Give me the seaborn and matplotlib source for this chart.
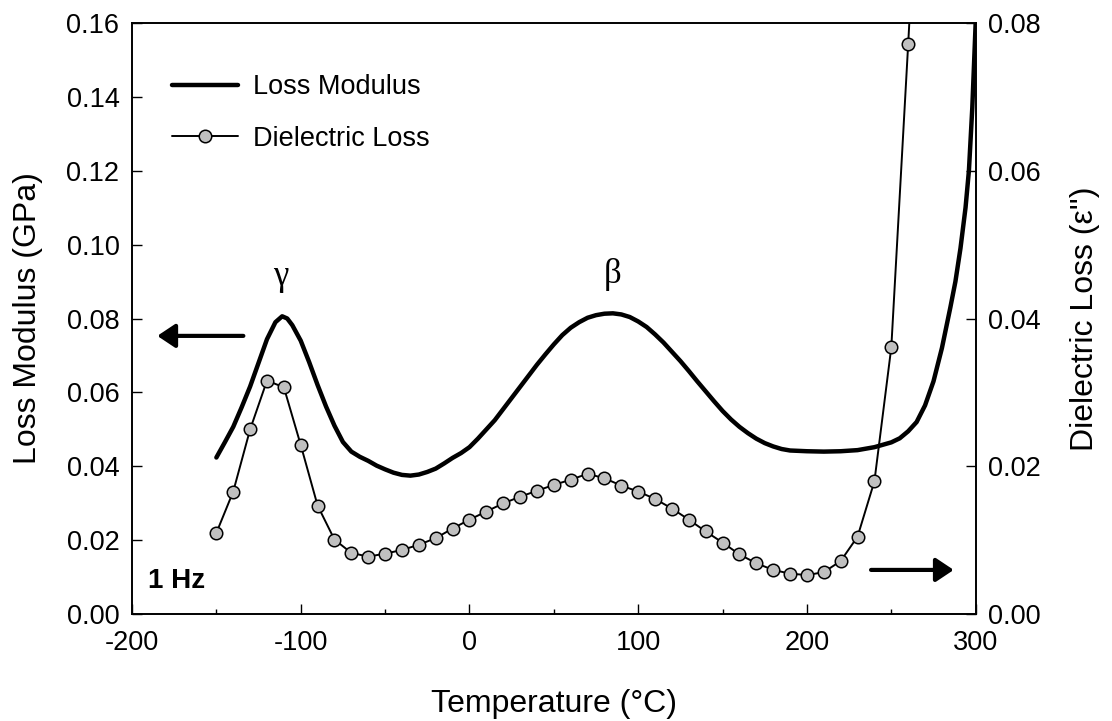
import numpy as np
import matplotlib
matplotlib.use("Agg")
import matplotlib.pyplot as plt
import seaborn as sns
from matplotlib.lines import Line2D
from matplotlib.ticker import MultipleLocator, FormatStrFormatter

# ---- data ----
# loss modulus (GPa), left axis
mod_temp = [-150, -145, -140, -135, -130, -125, -120, -115, -111, -108, -105, -100,
            -95, -90, -85, -80, -75, -70, -65, -60, -55, -50, -45, -40, -35, -30,
            -25, -20, -15, -10, -5, 0, 5, 10, 15, 20, 25, 30, 35, 40, 45, 50, 55,
            60, 65, 70, 75, 80, 85, 90, 95, 100, 105, 110, 115, 120, 125, 130,
            135, 140, 145, 150, 155, 160, 165, 170, 175, 180, 185, 190, 200, 210,
            220, 230, 240, 250, 255, 260, 265, 270, 275, 280, 285, 288, 291, 294,
            296, 298, 300]
loss_modulus = [0.0424, 0.0465, 0.0507, 0.0560, 0.0616, 0.0680, 0.0744, 0.0790,
                0.0806, 0.0800, 0.0782, 0.0740, 0.0682, 0.0620, 0.0562, 0.0510,
                0.0466, 0.0440, 0.0426, 0.0415, 0.0402, 0.0392, 0.0383, 0.0377,
                0.0375, 0.0378, 0.0385, 0.0394, 0.0408, 0.0423, 0.0436, 0.0452,
                0.0475, 0.0500, 0.0525, 0.0555, 0.0585, 0.0615, 0.0645, 0.0675,
                0.0703, 0.0730, 0.0755, 0.0775, 0.0790, 0.0802, 0.0809, 0.0813,
                0.0814, 0.0811, 0.0804, 0.0792, 0.0777, 0.0757, 0.0735, 0.0710,
                0.0685, 0.0658, 0.0630, 0.0603, 0.0576, 0.0550, 0.0527, 0.0507,
                0.0490, 0.0475, 0.0463, 0.0454, 0.0447, 0.0443, 0.0441, 0.0440,
                0.0441, 0.0444, 0.0452, 0.0465, 0.0476, 0.0495, 0.0520, 0.0565,
                0.0630, 0.0720, 0.0830, 0.0900, 0.0990, 0.1100, 0.1200, 0.1370,
                0.1600]

# dielectric loss (eps''), right axis; last point is off the top of the scale
diel_temp = [-150, -140, -130, -120, -110, -100, -90, -80, -70, -60, -50, -40,
             -30, -20, -10, 0, 10, 20, 30, 40, 50, 60, 70, 80, 90, 100, 110,
             120, 130, 140, 150, 160, 170, 180, 190, 200, 210, 220, 230, 240,
             250, 260, 270]
diel_loss = [0.0110, 0.0166, 0.0250, 0.0316, 0.0307, 0.0229, 0.0147, 0.0101,
             0.0083, 0.0078, 0.0082, 0.0087, 0.0094, 0.0103, 0.0116, 0.0128,
             0.0139, 0.0150, 0.0159, 0.0167, 0.0175, 0.0182, 0.0190, 0.0184,
             0.0174, 0.0166, 0.0156, 0.0143, 0.0128, 0.0112, 0.0097, 0.0081,
             0.0069, 0.0060, 0.0055, 0.0053, 0.0057, 0.0072, 0.0105, 0.0180,
             0.0361, 0.0771, 0.1200]

sns.set_style("ticks")
plt.rcParams["font.family"] = ["Liberation Sans", "DejaVu Sans"]
plt.rcParams["axes.unicode_minus"] = False
for key in ("text.color", "axes.labelcolor", "xtick.color", "ytick.color",
            "axes.edgecolor"):
    plt.rcParams[key] = "black"

fig = plt.figure(figsize=(11.12, 7.21), dpi=100)
ax = fig.add_axes([0.1187, 0.148, 0.7587, 0.8205])
ax2 = ax.twinx()

sns.lineplot(x=mod_temp, y=loss_modulus, ax=ax, color="black", linewidth=3.2)
sns.lineplot(x=diel_temp, y=diel_loss, ax=ax2, color="black", linewidth=1.4,
             marker="o", markersize=9, markerfacecolor="#c0c0c0",
             markeredgecolor="black", markeredgewidth=1.1)

ax.set_xlim(-200, 300)
ax.set_ylim(0, 0.16)
ax2.set_ylim(0, 0.08)

ax.xaxis.set_major_locator(MultipleLocator(100))
ax.xaxis.set_minor_locator(MultipleLocator(50))
ax.yaxis.set_major_locator(MultipleLocator(0.02))
ax2.yaxis.set_major_locator(MultipleLocator(0.02))
ax.yaxis.set_major_formatter(FormatStrFormatter("%.2f"))
ax2.yaxis.set_major_formatter(FormatStrFormatter("%.2f"))

ax.tick_params(axis="x", which="major", direction="in", length=7, width=1,
               labelsize=19.5, pad=11, top=False)
ax.tick_params(axis="x", which="minor", direction="in", length=3.5, width=1,
               top=False)
ax.tick_params(axis="y", direction="in", length=7, width=1, labelsize=19.5,
               pad=9)
ax2.tick_params(axis="y", direction="in", length=7, width=1, labelsize=19.5,
                pad=9)

for a in (ax, ax2):
    for s in a.spines.values():
        s.set_visible(True)
        s.set_linewidth(1.2)
        s.set_color("black")

ax.set_xlabel("Temperature (°C)", fontsize=23, labelpad=24)
ax.set_ylabel("Loss Modulus (GPa)", fontsize=23, labelpad=17)
ax2.set_ylabel("Dielectric Loss (ε'')", fontsize=23, labelpad=21)

# peak labels
serif = ["Liberation Serif", "DejaVu Serif"]
ax.text(-111.7, 0.0913, "γ", fontsize=25, family=serif, ha="center", va="center")
ax.text(85, 0.0918, "β", fontsize=25, family=serif, ha="center", va="center")

ax.text(-190.3, 0.0071, "1 Hz", fontsize=20, fontweight="bold", ha="left",
        va="baseline")

# arrows pointing to the matching axis
arrow = dict(arrowstyle="-|>,head_length=0.6,head_width=0.4", lw=3,
             color="black", mutation_scale=18, shrinkA=0, shrinkB=0)
ax.annotate("", xy=(-185, 0.0753), xytext=(-134, 0.0753), arrowprops=arrow)
ax2.annotate("", xy=(287, 0.0060), xytext=(238, 0.0060), arrowprops=arrow)

handles = [
    Line2D([], [], color="black", linewidth=3.2),
    Line2D([], [], color="black", linewidth=1.4, marker="o", markersize=9,
           markerfacecolor="#c0c0c0", markeredgecolor="black",
           markeredgewidth=1.1),
]
ax2.legend(handles, ["Loss Modulus", "Dielectric Loss"], loc="upper left",
           bbox_to_anchor=(0.047, 0.913), frameon=False, fontsize=19.5,
           handlelength=2.45, handletextpad=0.55, labelspacing=0.95,
           borderpad=0, borderaxespad=0)

fig.savefig("out.png", dpi=100)
